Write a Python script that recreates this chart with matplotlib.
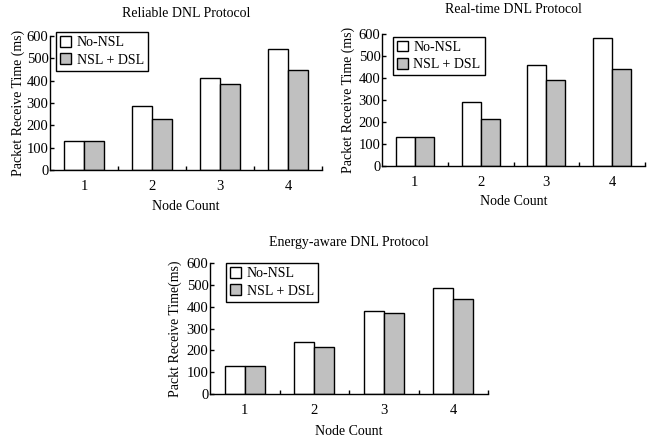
import matplotlib
matplotlib.use("Agg")
import matplotlib.pyplot as plt
import numpy as np

plt.rcParams['font.family'] = ['Liberation Serif', 'DejaVu Serif']
plt.rcParams['font.size'] = 10

categories = ["1", "2", "3", "4"]
series_names = ["No-NSL", "NSL + DSL"]

reliable_no_nsl = [132, 286, 412, 541]
reliable_nsl_dsl = [129, 229, 386, 448]

realtime_no_nsl = [134, 290, 460, 583]
realtime_nsl_dsl = [130, 215, 391, 440]

energy_no_nsl = [130, 239, 382, 485]
energy_nsl_dsl = [130, 215, 370, 433]

titles = ["Reliable DNL Protocol", "Real-time DNL Protocol", "Energy-aware DNL Protocol"]
ylabels = ["Packet Receive Time (ms)", "Packet Receive Time (ms)", "Packt Receive Time(ms)"]
xlabel = "Node Count"
yticks = [0, 100, 200, 300, 400, 500, 600]

W, H = 650, 440
fig = plt.figure(figsize=(6.5, 4.4), dpi=100)

def rect(l, r, b, t):
    return [l / W, 1 - b / H, (r - l) / W, (b - t) / H]

axes_px = [
    (50, 322, 170, 36),
    (382, 645, 166, 34),
    (210, 488, 394, 263),
]
data = [
    (reliable_no_nsl, reliable_nsl_dsl),
    (realtime_no_nsl, realtime_nsl_dsl),
    (energy_no_nsl, energy_nsl_dsl),
]
title_pads = [13.8, 15, 12.6]
xlabel_pads = [5, 4.2, 5.6]
ylabel_pads = [1.5, 2.5, 3.5]
legend_anchor = [(0.022, 1.03), (0.04, 0.98), (0.058, 1.0)]

x = np.arange(1, len(categories) + 1)
bw = 0.29
for i, (px, (a, b)) in enumerate(zip(axes_px, data)):
    ax = fig.add_axes(rect(*px))
    ax.bar(x - bw / 2, a, width=bw, color='white', edgecolor='black', linewidth=1.0, label=series_names[0])
    ax.bar(x + bw / 2, b, width=bw, color='#c0c0c0', edgecolor='black', linewidth=1.0, label=series_names[1])
    ax.set_xlim(0.5, 4.5)
    ax.set_ylim(0, 600)
    ax.set_yticks(yticks)
    ax.tick_params(axis='y', direction='in', length=3, width=1, pad=1, labelsize=10.5)
    ax.set_xticks([1.5, 2.5, 3.5, 4.5])
    ax.set_xticklabels([])
    ax.set_xticks(x, minor=True)
    ax.set_xticklabels(categories, minor=True)
    ax.tick_params(axis='x', which='major', direction='in', length=3, width=1)
    ax.tick_params(axis='x', which='minor', length=0, pad=7, labelsize=10.5)
    for s in ['top', 'right']:
        ax.spines[s].set_visible(False)
    for s in ['left', 'bottom']:
        ax.spines[s].set_linewidth(1.0)
    ax.set_title(titles[i], fontsize=10, pad=title_pads[i])
    ax.set_xlabel(xlabel, fontsize=10, labelpad=xlabel_pads[i])
    ax.set_ylabel(ylabels[i], fontsize=10, labelpad=ylabel_pads[i])
    leg = ax.legend(loc='upper left', bbox_to_anchor=legend_anchor[i], borderaxespad=0,
                    fancybox=False, edgecolor='black', framealpha=1, fontsize=10,
                    handlelength=0.8, handleheight=0.8, handletextpad=0.4,
                    borderpad=0.3, labelspacing=0.3)
    leg.get_frame().set_linewidth(1.0)

fig.savefig("out.png", dpi=100)
